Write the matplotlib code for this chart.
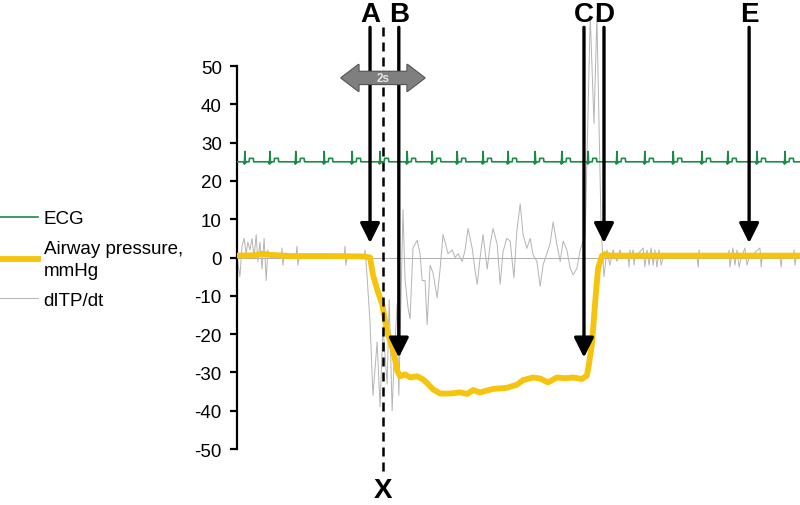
import numpy as np
import matplotlib
matplotlib.use("Agg")
import matplotlib.pyplot as plt
from matplotlib.lines import Line2D

plt.rcParams['font.family'] = ['Liberation Sans', 'DejaVu Sans']

# ---------------- data ----------------
# Airway pressure (mmHg) vs time (s)
aw_t = [0.00, 0.43, 0.60, 0.79, 1.27, 2.23, 3.00, 3.09, 3.19, 3.26, 3.38, 3.48, 3.55,
        3.62, 3.72, 3.79, 3.84, 3.91, 4.03, 4.15, 4.32, 4.46, 4.58, 4.70, 4.87, 5.11,
        5.35, 5.52, 5.66, 5.83, 6.00, 6.14, 6.47, 6.71, 6.86, 7.10, 7.27, 7.46, 7.67,
        7.87, 8.06, 8.27, 8.39, 8.44, 8.51, 8.56, 8.61, 8.66, 8.75, 8.82, 8.94, 13.50]
aw_v = [0.5, 0.6, 1.0, 0.7, 0.4, 0.4, 0.3, 0.2, 0.0, -4.5, -9, -12, -16.5,
        -20, -23.5, -26.6, -29.5, -31, -30.5, -31.3, -31, -31.8, -33, -34.4, -35.5, -35.5,
        -35.2, -35.6, -34.6, -35.2, -34.7, -34.3, -34, -33.2, -32, -31.3, -31.6, -32.6, -31.3,
        -31.5, -31.3, -31.7, -30.8, -27.8, -22.6, -15.7, -8.7, -2.7, 0.4, 0.9, 0.5, 0.5]

# dITP/dt trace
dp_t = [0.00, 0.07, 0.12, 0.17, 0.22, 0.26, 0.31, 0.36, 0.41, 0.46, 0.50, 0.55, 0.60,
        0.65, 0.70, 0.74, 0.79, 1.06, 1.08, 1.10, 1.13, 1.41, 1.44, 1.46, 1.49, 2.57,
        2.59, 2.61, 2.64, 3.05, 3.07, 3.12, 3.19, 3.26, 3.36, 3.43, 3.50, 3.60, 3.65,
        3.72, 3.77, 3.84, 3.88, 3.98, 4.03, 4.10, 4.15, 4.22, 4.32, 4.39, 4.44, 4.51,
        4.56, 4.63, 4.70, 4.80, 4.87, 4.94, 4.99, 5.06, 5.16, 5.23, 5.30, 5.40, 5.47,
        5.54, 5.64, 5.71, 5.76, 5.83, 5.90, 6.00, 6.07, 6.14, 6.24, 6.31, 6.38, 6.47,
        6.55, 6.64, 6.71, 6.79, 6.86, 6.95, 7.03, 7.10, 7.19, 7.27, 7.34, 7.43, 7.51,
        7.58, 7.67, 7.75, 7.82, 7.91, 7.99, 8.06, 8.15, 8.23, 8.35, 8.47, 8.56, 8.63,
        8.73, 8.80, 8.87, 8.94, 9.02, 9.11, 9.18, 9.26, 9.38, 9.40, 9.42, 9.45, 9.50,
        9.52, 9.54, 9.74, 9.78, 9.83, 9.88, 9.93, 9.98, 10.02, 10.07, 10.12, 10.17,
        10.22, 11.03, 11.06, 11.08, 11.10, 11.77, 11.80, 11.82, 11.89, 11.94, 11.99,
        12.04, 12.09, 12.18, 12.23, 12.28, 12.54, 12.57, 12.59, 13.02, 13.05, 13.07,
        13.33, 13.36, 13.38, 13.41, 13.50]
dp_v = [0, -5, 3, 5, 1, 4, 2, 5, 0, 6, -1, 4, -3,
        5, -6, 2, 0, 0, 2.5, -2, 0, 0, 3, -2, 0, 0,
        3, -2, 0, 0, 2, -5, -17, -36, -22, -39, -18, -33, -11,
        -40, -26, -12, -36, 12.5, -6, -13, -16, 2.5, 4.5, 1, -6, -6,
        -17.5, -2, -4, -10.5, -3, 6, 4, 1, 2, 0, 1, -1, 2,
        7.6, 2.4, -3.6, -7, 0, 6, -3, 3.4, 7.6, 3.4, -7, 1.6, 5,
        4.3, -5.3, 6.8, 14, 6, 2.4, 5, 0.7, -1, -7.5, -1.9, 1.1, 3.7,
        9.3, 3.4, -1, 4.3, 2, -2.8, -4.5, -2.8, 2, 6, 63, 35, 63,
        8, -5, 2, -2, 2, -1, 2, 0, 0, -2.5, 2, 0, 2,
        -2, 0, 2.5, -2.5, 2, -2, 2.5, -2, 2, -2.5, 2, -2,
        0, 0, -2.5, 2, 0, 0, 2, -2.5, 2.5, -2, 2,
        -2.5, 0, 2.5, -2, 0, 2.5, -2.5, 0, 0, -2.5, 0,
        0, 2, -2, 0, 0]

# ECG: beat times (s), baseline and one beat template
ecg_beats = [0.19, 0.79, 1.41, 2.09, 2.76, 3.43, 4.08, 4.68, 5.28, 5.90, 6.50,
             7.15, 7.79, 8.42, 9.11, 9.78, 10.46, 11.15, 11.77, 12.47, 13.14]
ecg_base = 25.0
beat_dt = [-0.03, -0.012, 0.0, 0.012, 0.03, 0.10, 0.11, 0.20, 0.21]
beat_dv = [0.0, -0.6, 2.7, -0.4, 0.0, 0.0, 0.9, 0.9, 0.0]

events = ['A', 'B', 'C', 'D', 'E']
event_t = [3.19, 3.88, 8.32, 8.80, 12.28]
event_tip = [3.8, -26.1, -26.1, 3.8, 3.8]
x_event_t = 3.50
yticks = [-50, -40, -30, -20, -10, 0, 10, 20, 30, 40, 50]

# ---------------- build ECG ----------------
ecg_t = [0.0]
ecg_v = [ecg_base]
for b in ecg_beats:
    for dt, dv in zip(beat_dt, beat_dv):
        ecg_t.append(b + dt)
        ecg_v.append(ecg_base + dv)
ecg_t.append(13.5)
ecg_v.append(ecg_base)

# ---------------- figure ----------------
fig = plt.figure(figsize=(8.0, 5.06), dpi=100)
ax = fig.add_axes([237/800, 0.0, 563/800, 1.0])
ax.set_xlim(0, 13.5)
ax.set_ylim(-64.6, 67.5)

ax.axhline(0, color='#a0a0a0', lw=0.6, zorder=1)
l_dp, = ax.plot(dp_t, dp_v, color='#b4b4b4', lw=0.7, zorder=2, label='dITP/dt')
l_ecg, = ax.plot(ecg_t, ecg_v, color='#1b8c47', lw=1.2, zorder=3, label='ECG')
l_aw, = ax.plot(aw_t, aw_v, color='#f6c40c', lw=4.2, zorder=4,
                solid_joinstyle='round', label='Airway pressure,\nmmHg')

# spines / ticks
for s in ['top', 'right', 'bottom']:
    ax.spines[s].set_visible(False)
ax.spines['left'].set_bounds(-50, 50)
ax.spines['left'].set_linewidth(1.6)
ax.set_yticks(yticks)
ax.set_yticklabels([str(v) for v in yticks])
ax.tick_params(axis='y', length=5, width=1.6, pad=6, labelsize=13.5, direction='out')
ax.set_xticks([])

# event arrows
for lab, t, tip in zip(events, event_t, event_tip):
    ax.annotate('', xy=(t, tip), xytext=(t, 60.1),
                arrowprops=dict(arrowstyle='-|>,head_width=0.4,head_length=0.8',
                                lw=2.4, color='black', shrinkA=0, shrinkB=0,
                                mutation_scale=15),
                zorder=6, annotation_clip=False)
    ax.text(t, 63.6, lab, ha='center', va='center', fontsize=20, fontweight='bold')

# dashed X line
ax.plot([x_event_t, x_event_t], [60.1, -56.0], color='black', lw=1.8,
        ls=(0, (3.6, 2.4)), zorder=5, clip_on=False)
ax.text(x_event_t, -60.6, 'X', ha='center', va='center', fontsize=20, fontweight='bold')

# 2s double arrow
arr_y = 46.9
for pass_i in range(2):
    for xend in (x_event_t - 1.0, x_event_t + 1.0):
        ax.annotate('', xy=(xend, arr_y), xytext=(x_event_t, arr_y),
                    arrowprops=dict(arrowstyle='simple,head_length=1.25,head_width=1.9,tail_width=0.9',
                                    fc='#7f7f7f',
                                    ec='#4d4d4d' if pass_i == 0 else 'none',
                                    lw=1.4 if pass_i == 0 else 0,
                                    shrinkA=0, shrinkB=0, mutation_scale=10),
                    zorder=7 + pass_i)
ax.text(x_event_t, arr_y, '2s', ha='center', va='center', fontsize=8.5,
        fontweight='bold', color='#e6e6e6', zorder=10)

# legend
leg = fig.legend(handles=[l_ecg, l_aw, l_dp], labels=['ECG', 'Airway pressure,\nmmHg', 'dITP/dt'],
                 loc='upper left', bbox_to_anchor=(0.0, 1 - 211/506), frameon=False,
                 fontsize=13.5, handlelength=2.0, handletextpad=0.33, labelspacing=0.7,
                 borderpad=0, borderaxespad=0)
for txt in leg.get_texts():
    txt.set_linespacing(1.35)

fig.savefig('out.png', dpi=100)
